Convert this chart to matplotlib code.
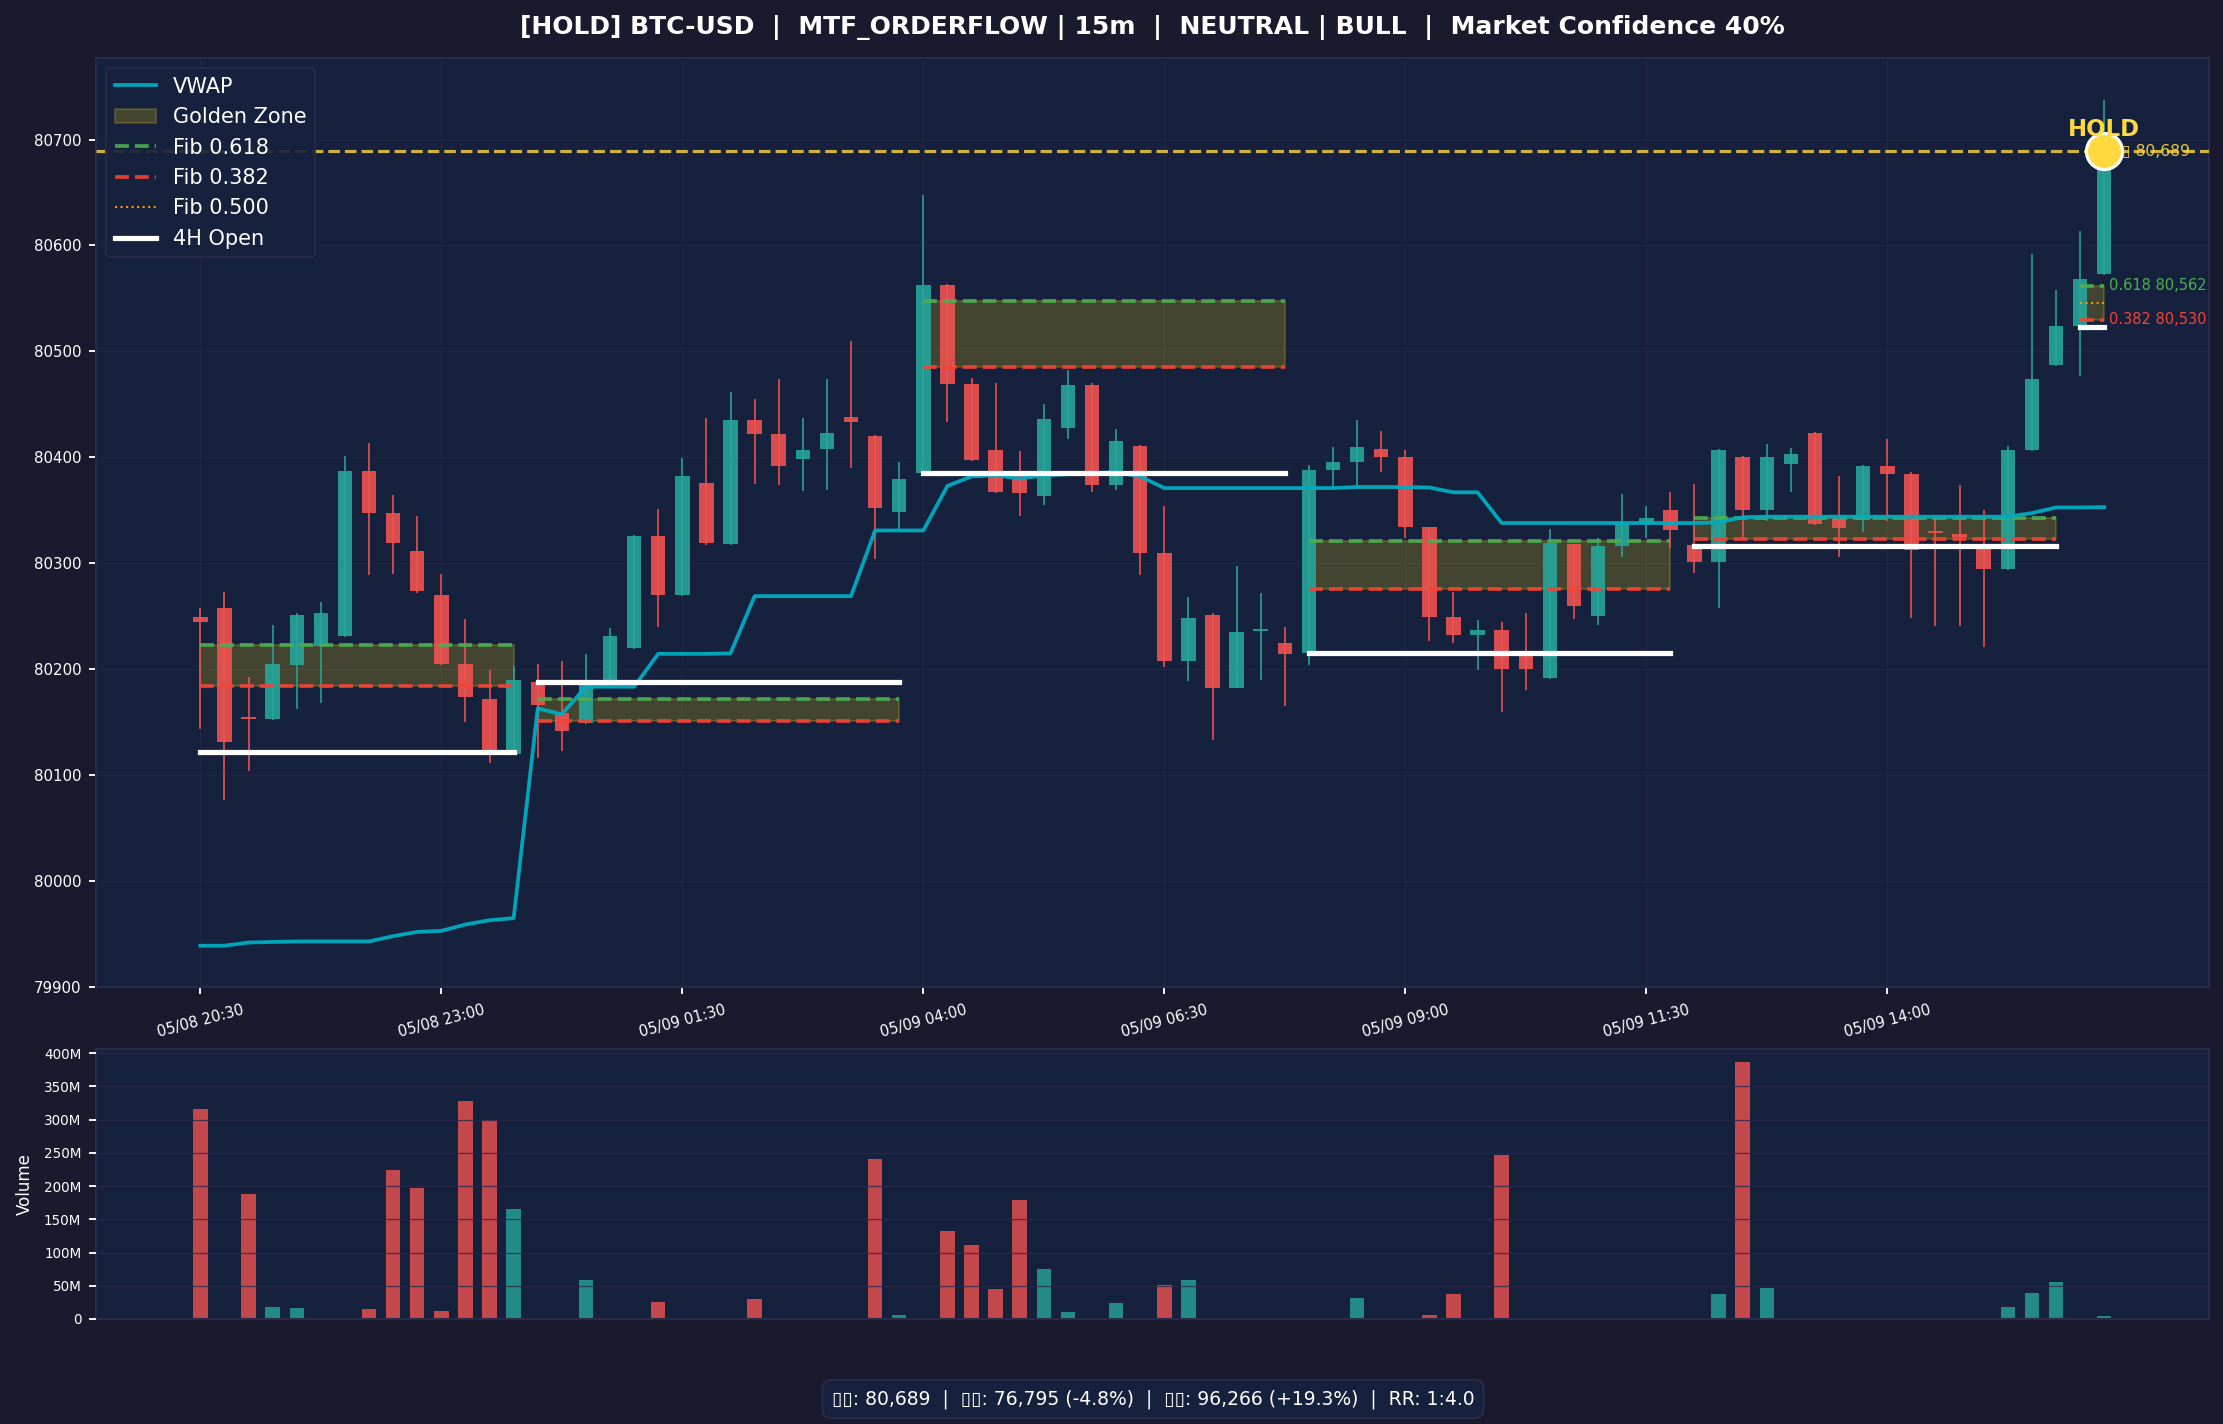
import matplotlib
matplotlib.use("Agg")
import matplotlib.pyplot as plt
from matplotlib.patches import Rectangle
from matplotlib.ticker import FuncFormatter

BG = '#1a1a2e'; PANEL = '#16213e'; EDGE = '#2a2a4a'
UP = '#26a69a'; DOWN = '#ef5350'; GOLD = '#ffd700'; GREEN = '#4caf50'; RED = '#f44336'
W, H = 2223, 1424
DPI = 150

opens  = [80249,80258,80155,80153,80204,80222,80231,80387,80347,80312,80270,80204.5,80172,80120,80188,80159,80149,80184,80220,80326,80270,80376,80318,80435,80422,80398,80408,80438,80420,80348,80385,80563,80469,80407,80384,80363.5,80428,80468,80374,80411,80310,80208,80251,80182,80236,80225,80215,80388,80396,80408,80400,80334,80249,80232,80237,80216,80192,80318,80250,80316,80337,80350.5,80317,80301,80400,80350,80394,80423,80346,80341,80392,80384,80330,80328,80317,80295,80407,80487,80524,80573]
closes = [80245,80131,80153,80205,80251,80253,80387,80347,80319,80274,80204.5,80174,80122,80189.5,80166,80142,80185,80231,80326,80270,80382,80319,80435,80422,80392,80407,80423,80433,80352,80380,80563,80469,80397.5,80367,80366,80436,80468,80374,80415,80310,80208,80248,80182,80235,80237,80214,80388,80396,80410,80400,80334,80249,80232,80237,80200,80200,80319.5,80259.5,80316,80337,80343,80331,80301,80407,80350,80400,80403,80337,80333,80392,80384,80313,80329,80325,80295,80407,80474,80524,80568,80689]
highs  = [80258,80273,80193,80242,80253,80263,80401,80414,80364,80345,80290,80247,80199,80203,80205,80208,80214,80239,80327,80351,80399,80437,80462,80455,80474,80437,80474,80510,80421,80396,80648,80564,80475,80470,80406,80450,80482,80470,80427,80411.5,80354,80268,80253,80297,80272,80240,80393,80410,80435,80425,80407,80334.5,80272.5,80246,80245,80253,80332,80318.5,80324,80365.5,80354,80367,80375,80408,80401,80412.5,80409,80424,80382.5,80393,80417,80386,80342,80374,80350.5,80410.5,80592,80558,80614,80737]
lows   = [80144,80077,80104,80152,80162,80168,80230,80289,80290,80272,80204,80150,80111,80120,80116,80123,80148,80183,80219,80240,80269,80317,80317,80375,80374,80368,80369,80390,80304,80331,80385,80433,80396.5,80366,80345,80355,80417,80367,80369,80289,80202,80189,80133,80182,80190,80165,80204,80370,80372,80386,80324,80226.5,80225,80199,80160,80180,80191,80247,80241.5,80306,80324,80314,80291,80257.5,80323,80340,80367.5,80336.5,80306,80330,80340,80248,80241,80241,80221,80294,80406,80486,80477,80572]
vwap   = [79939,79939,79942,79942.5,79943,79943,79943,79943,79948,79952,79953,79959,79963,79965,80163,80157.4,80183.5,80183.5,80183.5,80214.5,80214.5,80214.5,80215,80269,80269,80269,80269,80269,80331,80331,80331,80373,80382,80383,80380,80383,80384,80385,80386,80382,80371,80371,80371,80371,80371,80371,80371,80371,80372,80372,80372,80371.5,80367,80367,80338,80338,80338,80338,80338,80338,80338,80338,80338,80338.6,80343.5,80344,80344,80344,80344,80344,80344,80344,80344,80344,80344,80344,80347.4,80352.7,80352.7,80353]
volumes = [316,0,188,17.6,16,0.5,0.5,14.5,224,197,11.5,328,299.5,165,0,0,58,0,0,25,0,0,0,29.6,0,0,0,0,240.7,5.5,0,132,111,44.7,179,75,10,0,23.6,0,50.8,58,0,0,0,0,0,0,31,0,0,5.5,37,0,246.7,0,0,0,0,0,0,0,0,37,387,46,0,0,0,0,0,0,0,0.3,0.5,17.6,38.7,55,0,4]

zone_start  = [0,14,30,46,62,78]
zone_end    = [13,29,45,61,77,79]
zone_618    = [80222.4,80172,80547.5,80320.8,80343,80562]
zone_382    = [80184,80151,80485,80276,80323,80530]
open_4h     = [80121.5,80188,80385,80215,80316.5,80523]
fib_500     = 80546
last_price  = 80689
tick_pos    = [0,10,20,30,40,50,60,70]
tick_labels = ['05/08 20:30','05/08 23:00','05/09 01:30','05/09 04:00','05/09 06:30','05/09 09:00','05/09 11:30','05/09 14:00']

plt.rcParams['font.family'] = ['DejaVu Sans']
fig = plt.figure(figsize=(W/DPI, H/DPI), dpi=DPI, facecolor=BG)

def px_axes(l, t, r, b):
    return fig.add_axes([l/W, 1-b/H, (r-l)/W, (b-t)/H], facecolor=PANEL)

ax = px_axes(96, 58, 2209, 987)
av = px_axes(96, 1049, 2209, 1319)

for a in (ax, av):
    for s in a.spines.values():
        s.set_color(EDGE); s.set_linewidth(1.0)
    a.tick_params(colors='white')

xs = list(range(len(opens)))
colors = [UP if c >= o else DOWN for o, c in zip(opens, closes)]
ax.vlines(xs, lows, highs, colors=colors, linewidth=0.9, alpha=0.85, zorder=3)
ax.bar(xs, [max(abs(c-o), 1.5) for o, c in zip(opens, closes)],
       bottom=[min(o, c) for o, c in zip(opens, closes)],
       width=0.6, color=colors, alpha=0.9, linewidth=0, zorder=3.2)

for i, (s, e, t, b, w) in enumerate(zip(zone_start, zone_end, zone_618, zone_382, open_4h)):
    first = i == 0
    ax.add_patch(Rectangle((s, b), e-s, t-b, facecolor=GOLD, edgecolor=GOLD, alpha=0.2,
                           linewidth=1.0, zorder=2.6, label='Golden Zone' if first else None))
    ax.hlines(t, s, e, colors=GREEN, linestyles='--', linewidth=1.8, alpha=0.9, zorder=3.5,
              label='Fib 0.618' if first else None)
    ax.hlines(b, s, e, colors=RED, linestyles='--', linewidth=1.8, alpha=0.9, zorder=3.5,
              label='Fib 0.382' if first else None)
ax.hlines(fib_500, zone_start[-1], zone_end[-1], colors='#ff9800', linestyles=':', linewidth=1.0,
          zorder=3.5, label='Fib 0.500')
ax.plot(xs, vwap, color='#00acc1', linewidth=1.8, alpha=0.95, zorder=4, label='VWAP')
for i, (s, e, w) in enumerate(zip(zone_start, zone_end, open_4h)):
    ax.plot([s, e], [w, w], color='white', linewidth=2.5, zorder=5, label='4H Open' if i == 0 else None)

ax.axhline(last_price, color='#ffd740', linestyle='--', linewidth=1.5, alpha=0.8, zorder=5)
ax.scatter([xs[-1]], [last_price], s=300, color='#ffd93d', edgecolors='white', linewidths=1.5, zorder=7)
ax.text(xs[-1], last_price+10, 'HOLD', color='#ffd93d', fontsize=11, fontweight='bold',
        ha='center', va='bottom', zorder=8)
ax.text(xs[-1]+0.75, last_price, '\u25af 80,689', color='#ffd93d', fontsize=7.5, va='center', alpha=0.9, zorder=8)
ax.text(xs[-1]+0.2, zone_618[-1], f'0.618 {zone_618[-1]:,}', color=GREEN, fontsize=7, va='center', zorder=8)
ax.text(xs[-1]+0.2, zone_382[-1], f'0.382 {zone_382[-1]:,}', color=RED, fontsize=7, va='center', zorder=8)

ax.set_xlim(-4.33, 83.35)
ax.set_ylim(79900, 80777)
ax.set_xticks(tick_pos)
ax.set_xticklabels(tick_labels, rotation=15, fontsize=7, color='white')
ax.set_yticks(range(79900, 80800, 100))
ax.tick_params(axis='y', labelsize=7.2, length=3.5, width=0.9)
ax.tick_params(axis='x', length=3.5, width=0.9, pad=4)
ax.grid(True, color=EDGE, linewidth=0.6, alpha=0.6)

h, l = ax.get_legend_handles_labels()
order = ['VWAP', 'Golden Zone', 'Fib 0.618', 'Fib 0.382', 'Fib 0.500', '4H Open']
m = dict(zip(l, h))
leg = ax.legend([m[k] for k in order], order, loc='upper left', fontsize=10, facecolor=PANEL,
                edgecolor=EDGE, framealpha=0.9, labelcolor='white', borderaxespad=0.5)
leg.set_zorder(20)

av.bar(xs, volumes, width=0.6, color=colors, alpha=0.8, linewidth=0, zorder=1)
av.set_xlim(ax.get_xlim())
av.set_ylim(0, 406.4)
av.set_xticks([])
av.set_yticks(range(0, 401, 50))
av.yaxis.set_major_formatter(FuncFormatter(lambda v, p: '0' if v == 0 else f'{v:.0f}M'))
av.tick_params(axis='y', labelsize=6.5, length=3.5, width=0.9)
av.grid(True, axis='y', color=EDGE, linewidth=0.6, alpha=0.8)
av.set_axisbelow(False)
av.set_ylabel('Volume', color='white', fontsize=8, labelpad=5)

fig.text(1152/W, 1-27/H,
         '[HOLD] BTC-USD  |  MTF_ORDERFLOW | 15m  |  NEUTRAL | BULL  |  Market Confidence 40%',
         color='white', fontsize=12, fontweight='bold', ha='center', va='center')
fig.text(1153/W, 1-1399/H,
         '\u25af\u25af: 80,689  |  \u25af\u25af: 76,795 (-4.8%)  |  \u25af\u25af: 96,266 (+19.3%)  |  RR: 1:4.0',
         color='white', fontsize=9, ha='center', va='center',
         bbox=dict(boxstyle='round,pad=0.5', facecolor=PANEL, edgecolor=EDGE, linewidth=1))

fig.savefig('out.png', dpi=DPI, facecolor=BG)
